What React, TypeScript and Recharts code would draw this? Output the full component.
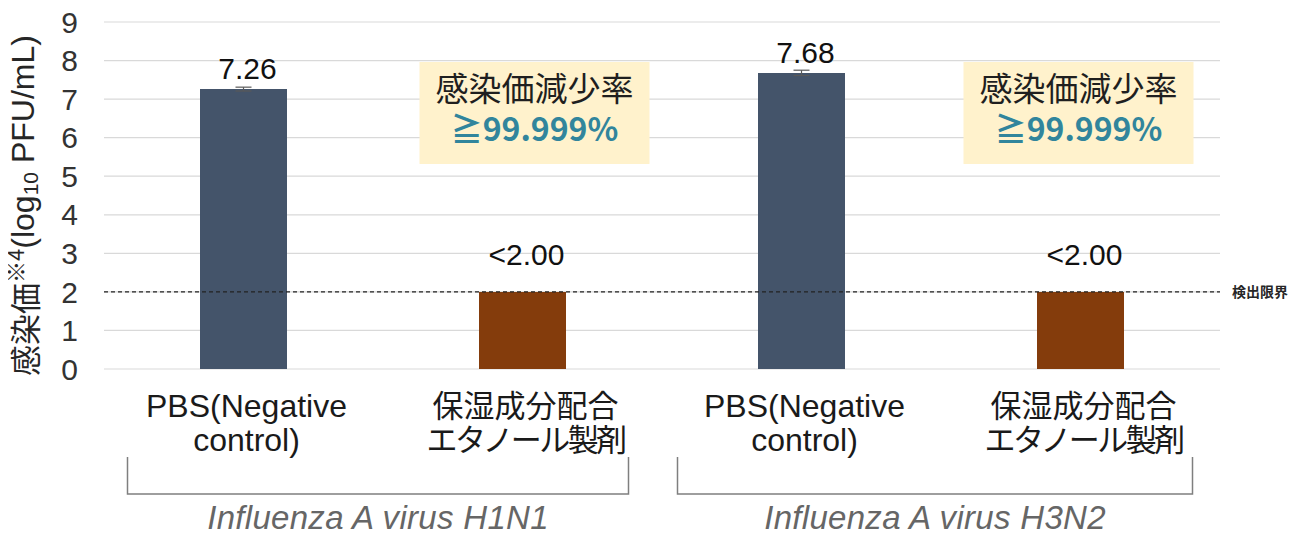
import React from "react";
import {
  BarChart,
  Bar,
  XAxis,
  YAxis,
  CartesianGrid,
  Cell,
  ErrorBar,
  LabelList,
  ReferenceLine,
  ReferenceDot,
  Label,
} from "recharts";

// ---- data ----
const categories = ["H1N1-PBS", "H1N1-製剤", "H3N2-PBS", "H3N2-製剤"];
const labelLine1 = ["PBS(Negative", "保湿成分配合", "PBS(Negative", "保湿成分配合"];
const labelLine2 = ["control)", "エタノール製剤", "control)", "エタノール製剤"];
const values = [7.26, 2.0, 7.68, 2.0];
const errors = [0.05, 0, 0.07, 0];
const valueLabels = ["7.26", "<2.00", "7.68", "<2.00"];
const groupNames = ["Influenza A virus H1N1", "Influenza A virus H3N2"];
const groupOfCategory = [0, 0, 1, 1];
const yTicks = [0, 1, 2, 3, 4, 5, 6, 7, 8, 9];
const detectionLimit = 2;
const detectionLabel = "検出限界";
const annotationCategories = [categories[1], categories[3]];
const annotationY = [6.64, 6.64];
const annotationTitle = "感染価減少率";
const annotationValue = "≧99.999%";

// ---- styles / layout ----
const barColors = ["#44546A", "#843C0C", "#44546A", "#843C0C"];
const LATIN = "'Liberation Sans', Arial, 'Noto Sans CJK JP', sans-serif";
const CJK = "'Noto Sans CJK JP', 'Liberation Sans', sans-serif";
const W = 1295;
const H = 525;
const MARGIN = { top: 14, right: 83, bottom: 0, left: 0 };
const Y_AXIS_W = 96;
const X_AXIS_H = 164;
const PLOT_W = W - MARGIN.left - MARGIN.right - Y_AXIS_W;
const BAND = PLOT_W / categories.length;
const annotationDx = [12, -2];
const bracketInset = [
  [-116, 106],
  [-124, 112],
];

const data = categories.map((c, i) => ({
  name: c,
  value: values[i],
  err: errors[i],
  label: valueLabels[i],
}));

function CategoryTick(props: any) {
  const { x, y, payload } = props;
  const i = categories.indexOf(payload.value);
  if (i < 0) return null;
  const g = groupOfCategory[i];
  const isFirst = groupOfCategory.indexOf(g) === i;
  let bracket: any = null;
  if (isFirst) {
    const lastIdx = groupOfCategory.lastIndexOf(g);
    const left = x + bracketInset[g][0];
    const right = x + (lastIdx - i) * BAND + bracketInset[g][1];
    const top = y + 88;
    const bottom = y + 125;
    bracket = (
      <g>
        <path
          d={`M${left},${top}V${bottom}H${right}V${top}`}
          fill="none"
          stroke="#7F7F7F"
          strokeWidth={1.5}
        />
        <text
          x={(left + right) / 2}
          y={y + 160}
          textAnchor="middle"
          fontFamily={LATIN}
          fontStyle="italic"
          fontSize={33}
          letterSpacing={0.3}
          fill="#666666"
        >
          {groupNames[g]}
        </text>
      </g>
    );
  }
  const isCjk = /[^\x00-\x7F]/.test(labelLine1[i]);
  return (
    <g>
      <text
        x={x + 3}
        y={y + 48}
        textAnchor="middle"
        fontFamily={isCjk ? CJK : LATIN}
        fontSize={isCjk ? 31 : 32}
        fill="#1a1a1a"
      >
        {labelLine1[i]}
      </text>
      <text
        x={x + 3}
        y={y + 82}
        textAnchor="middle"
        fontFamily={isCjk ? CJK : LATIN}
        fontSize={isCjk ? 31 : 32}
        letterSpacing={isCjk ? -2.6 : 0}
        fill="#1a1a1a"
      >
        {labelLine2[i]}
      </text>
      {bracket}
    </g>
  );
}

function ValueLabel(props: any) {
  const { x, y, width, index } = props;
  const txt = valueLabels[index];
  const off = txt.startsWith("<") ? 27 : 10;
  return (
    <text
      x={x + width / 2 + 4}
      y={y - off}
      textAnchor="middle"
      fontFamily={LATIN}
      fontSize={30}
      fill="#111"
    >
      {txt}
    </text>
  );
}

function YLabel(props: any) {
  const vb = props.viewBox || { x: 0, y: MARGIN.top, width: Y_AXIS_W, height: 347 };
  const cx = vb.x + 15;
  const cy = vb.y + vb.height / 2 + 10;
  return (
    <text
      x={cx}
      y={cy}
      transform={`rotate(-90 ${cx} ${cy})`}
      textAnchor="middle"
      dominantBaseline="central"
      fontFamily={LATIN}
      fontSize={32}
      fill="#262626"
    >
      <tspan fontFamily={CJK} fontSize={31}>感染価</tspan>
      <tspan fontFamily={CJK} fontSize={22} dy={-9}>※4</tspan>
      <tspan dy={9}>(log</tspan>
      <tspan fontSize={21} dy={7}>10</tspan>
      <tspan dy={-7}> PFU/mL)</tspan>
    </text>
  );
}

function DetLabel(props: any) {
  const vb = props.viewBox;
  return (
    <text
      x={vb.x + vb.width + 12}
      y={vb.y + 5}
      fontFamily={CJK}
      fontWeight={700}
      fontSize={14}
      fill="#262626"
    >
      {detectionLabel}
    </text>
  );
}

function makeAnnotation(k: number) {
  return function AnnotationShape(props: any) {
    const { cx, cy } = props;
    if (cx == null || cy == null) return null;
    const mx = cx + annotationDx[k];
    return (
      <g>
        <rect x={mx - 115} y={cy - 51} width={230} height={102} fill="#FFF2CC" />
        <text
          x={mx}
          y={cy - 12}
          textAnchor="middle"
          fontFamily={CJK}
          fontSize={33}
          fill="#1f1f1f"
        >
          {annotationTitle}
        </text>
        <text
          x={mx}
          y={cy + 28}
          textAnchor="middle"
          fontFamily={CJK}
          fontWeight={700}
          fontSize={32}
          fill="#31859C"
        >
          {annotationValue}
        </text>
      </g>
    );
  };
}

export default function App() {
  return (
    <div style={{ width: W, height: H }}>
      <BarChart width={W} height={H} data={data} margin={MARGIN}>
        <CartesianGrid vertical={false} stroke="#D9D9D9" strokeWidth={1.2} />
        <XAxis
          dataKey="name"
          type="category"
          height={X_AXIS_H}
          axisLine={false}
          tickLine={false}
          tickSize={0}
          tickMargin={0}
          interval={0}
          tick={<CategoryTick />}
        />
        <YAxis
          type="number"
          domain={[0, 9]}
          ticks={yTicks}
          width={Y_AXIS_W}
          axisLine={false}
          tickLine={false}
          tickSize={0}
          tickMargin={26}
          interval={0}
          tick={{ fontFamily: LATIN, fontSize: 30, fill: "#333333" }}
        >
          <Label content={<YLabel />} position="insideLeft" />
        </YAxis>
        <Bar dataKey="value" barSize={87} isAnimationActive={false}>
          {data.map((d, i) => (
            <Cell key={d.name} fill={barColors[i]} />
          ))}
          <ErrorBar dataKey="err" width={8} stroke="#595959" strokeWidth={1.2} direction="y" />
          <LabelList dataKey="label" content={<ValueLabel />} />
        </Bar>
        <ReferenceLine
          y={detectionLimit}
          stroke="#222222"
          strokeDasharray="4 3"
          strokeWidth={1.3}
          label={<DetLabel />}
        />
        {annotationCategories.map((c, k) => (
          <ReferenceDot
            key={c}
            x={c}
            y={annotationY[k]}
            r={10}
            ifOverflow="visible"
            shape={makeAnnotation(k)}
          />
        ))}
      </BarChart>
    </div>
  );
}
